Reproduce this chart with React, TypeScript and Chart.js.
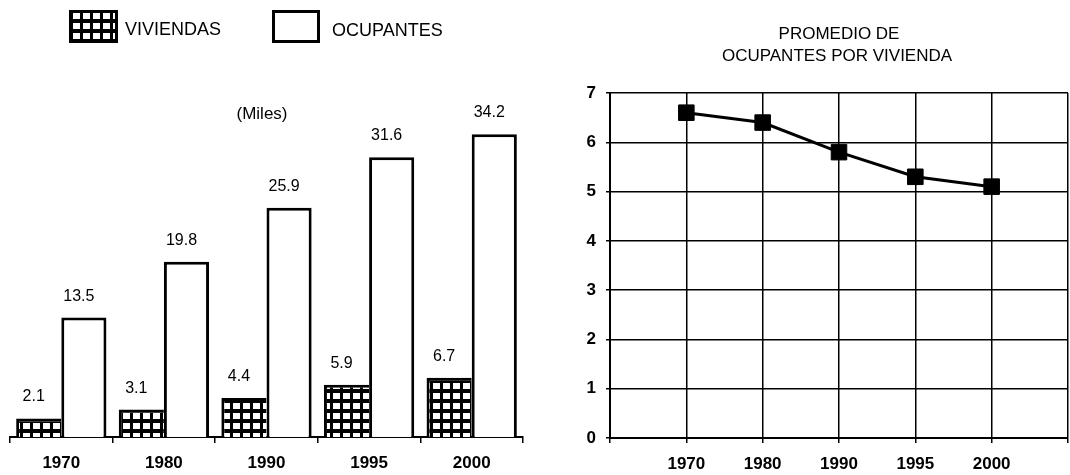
import React, { useEffect, useRef } from 'react';
import { Chart, registerables } from 'chart.js';
Chart.register(...registerables);

const years = ['1970', '1980', '1990', '1995', '2000'];
const viviendas = [2.1, 3.1, 4.4, 5.9, 6.7];
const ocupantes = [13.5, 19.8, 25.9, 31.6, 34.2];
const promedioLabels = ['', '1970', '1980', '1990', '1995', '2000', ''];
const promedio: (number | null)[] = [null, 6.6, 6.4, 5.8, 5.3, 5.1, null];
const legendNames = ['VIVIENDAS', 'OCUPANTES'];
const unitNote = '(Miles)';
const rightTitle = ['PROMEDIO DE', 'OCUPANTES POR VIVIENDA'];

const FONT = '"Liberation Sans", Arial, Helvetica, sans-serif';

function makePattern(ctx: CanvasRenderingContext2D) {
  const c = document.createElement('canvas');
  c.width = 10;
  c.height = 10;
  const g = c.getContext('2d')!;
  g.fillStyle = '#000';
  g.fillRect(0, 0, 10, 10);
  g.fillStyle = '#fff';
  g.fillRect(3, 3, 7, 6);
  return ctx.createPattern(c, 'repeat')!;
}

export default function App() {
  const leftRef = useRef<HTMLCanvasElement>(null);
  const rightRef = useRef<HTMLCanvasElement>(null);

  useEffect(() => {
    const lctx = leftRef.current!.getContext('2d')!;
    const pattern = makePattern(lctx);

    const leftPlugin = {
      id: 'leftDecor',
      afterDatasetsDraw(chart: any) {
        const ctx = chart.ctx;
        ctx.save();
        ctx.fillStyle = '#000';
        ctx.font = `16px ${FONT}`;
        ctx.textAlign = 'center';
        ctx.textBaseline = 'alphabetic';
        chart.data.datasets.forEach((ds: any, i: number) => {
          chart.getDatasetMeta(i).data.forEach((el: any, j: number) => {
            ctx.fillText(Number(ds.data[j]).toFixed(1), el.x - 5, el.y - 17);
          });
        });
        ctx.restore();
      },
      afterDraw(chart: any) {
        const ctx = chart.ctx;
        ctx.save();
        // legend
        ctx.fillStyle = pattern;
        ctx.fillRect(69, 10, 49, 33);
        ctx.strokeStyle = '#000';
        ctx.lineWidth = 3;
        ctx.strokeRect(70.5, 11.5, 46, 30);
        ctx.fillStyle = '#fff';
        ctx.fillRect(272, 10, 48, 33);
        ctx.strokeRect(273.5, 11.5, 45, 30);
        ctx.fillStyle = '#000';
        ctx.font = `18px ${FONT}`;
        ctx.textAlign = 'left';
        ctx.textBaseline = 'middle';
        ctx.fillText(legendNames[0], 125, 30);
        ctx.fillText(legendNames[1], 332, 31);
        ctx.font = `17px ${FONT}`;
        ctx.textAlign = 'center';
        ctx.fillText(unitNote, 262, 114);
        ctx.restore();
      },
    };

    const left = new Chart(leftRef.current!, {
      type: 'bar',
      data: {
        labels: years,
        datasets: [
          {
            label: legendNames[0],
            data: viviendas,
            backgroundColor: pattern as any,
            borderColor: '#000',
            borderWidth: { top: 3, left: 3, right: 0, bottom: 0 } as any,
            borderSkipped: false as any,
            categoryPercentage: 0.88,
            barPercentage: 1,
          },
          {
            label: legendNames[1],
            data: ocupantes,
            backgroundColor: '#fff',
            borderColor: '#000',
            borderWidth: { top: 3, left: 3, right: 3, bottom: 0 } as any,
            borderSkipped: false as any,
            categoryPercentage: 0.88,
            barPercentage: 1,
          },
        ],
      },
      options: {
        responsive: false,
        animation: false,
        layout: { padding: { left: 10, right: 7, top: 83, bottom: 0 } },
        plugins: { legend: { display: false }, tooltip: { enabled: false } },
        scales: {
          x: {
            offset: true,
            grid: {
              offset: true,
              drawOnChartArea: false,
              drawTicks: true,
              tickLength: 6,
              color: '#000',
              lineWidth: 1.5,
            },
            border: { display: true, color: '#000', width: 2 },
            ticks: {
              color: '#000',
              font: { family: FONT, size: 17, weight: 'bold' },
              padding: 10,
              maxRotation: 0,
            },
            afterFit(s: any) {
              s.height = 38;
            },
          },
          y: {
            display: false,
            min: 0,
            max: 40,
          },
        },
      },
      plugins: [leftPlugin],
    });

    const rightPlugin = {
      id: 'rightTitle',
      afterDraw(chart: any) {
        const ctx = chart.ctx;
        ctx.save();
        ctx.fillStyle = '#000';
        ctx.font = `17px ${FONT}`;
        ctx.textAlign = 'center';
        ctx.textBaseline = 'middle';
        ctx.fillText(rightTitle[0], 299, 34);
        ctx.fillText(rightTitle[1], 297, 56);
        ctx.restore();
      },
    };

    const right = new Chart(rightRef.current!, {
      type: 'line',
      data: {
        labels: promedioLabels,
        datasets: [
          {
            data: promedio,
            borderColor: '#000',
            borderWidth: 3,
            backgroundColor: '#000',
            pointStyle: 'rect',
            pointRadius: 11,
            pointBorderWidth: 1,
            pointBackgroundColor: '#000',
            pointBorderColor: '#000',
            tension: 0,
          },
        ],
      },
      options: {
        responsive: false,
        animation: false,
        layout: { padding: { left: 0, right: 5, top: 93, bottom: 0 } },
        plugins: { legend: { display: false }, tooltip: { enabled: false } },
        scales: {
          x: {
            offset: false,
            grid: { color: '#000', lineWidth: 1.5, tickLength: 5 },
            border: { color: '#000', width: 2 },
            ticks: {
              color: '#000',
              font: { family: FONT, size: 17, weight: 'bold' },
              padding: 11,
              autoSkip: false,
              maxRotation: 0,
            },
            afterFit(s: any) {
              s.height = 37;
            },
          },
          y: {
            min: 0,
            max: 7,
            grid: { color: '#000', lineWidth: 1.5, tickLength: 4 },
            border: { color: '#000', width: 2 },
            ticks: {
              stepSize: 1,
              color: '#000',
              font: { family: FONT, size: 17, weight: 'bold' },
              padding: 10,
            },
            afterFit(s: any) {
              s.width = 70;
            },
          },
        },
      },
      plugins: [rightPlugin],
    });

    return () => {
      left.destroy();
      right.destroy();
    };
  }, []);

  return (
    <div
      style={{
        position: 'fixed',
        left: 0,
        top: 0,
        width: 1070,
        height: 475,
        overflow: 'hidden',
        background: '#fff',
      }}
    >
      <canvas
        ref={leftRef}
        width={530}
        height={475}
        style={{ position: 'absolute', left: 0, top: 0 }}
      />
      <canvas
        ref={rightRef}
        width={540}
        height={475}
        style={{ position: 'absolute', left: 540, top: 0 }}
      />
    </div>
  );
}
